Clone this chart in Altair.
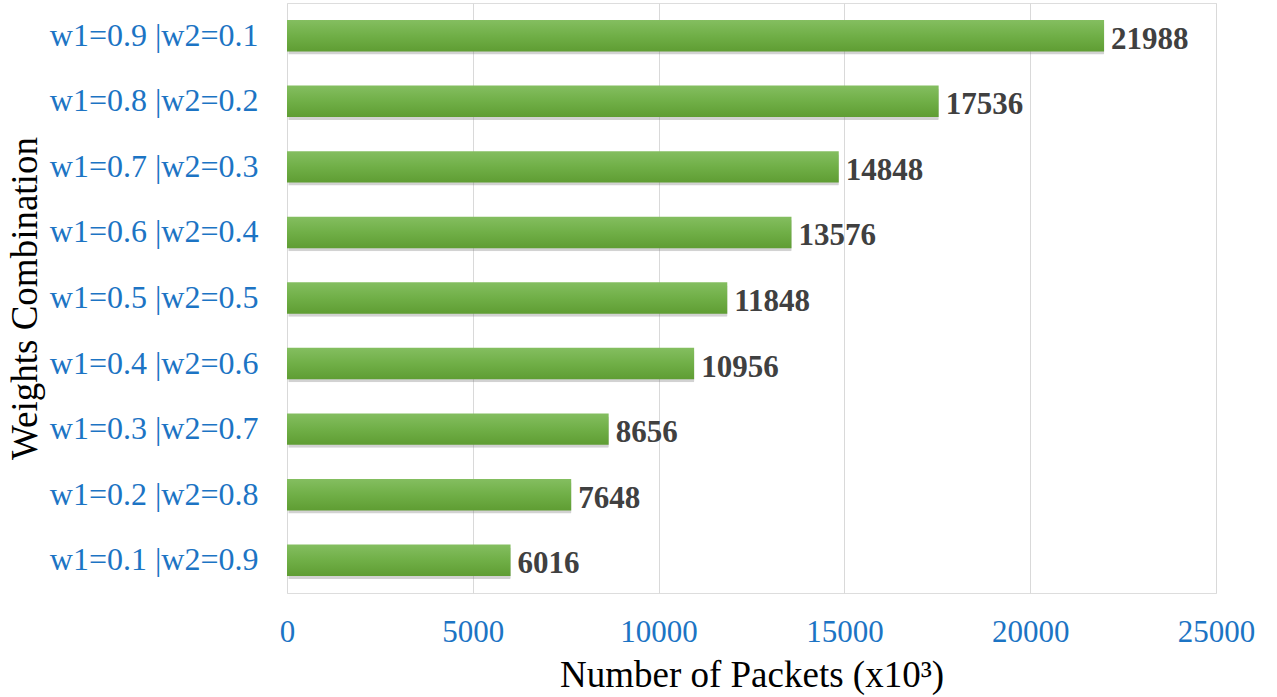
import altair as alt
import pandas as pd

# Weight combinations (w1 | w2) and the packet counts (x10^3) they produced
combos = [
    "w1=0.9 |w2=0.1",
    "w1=0.8 |w2=0.2",
    "w1=0.7 |w2=0.3",
    "w1=0.6 |w2=0.4",
    "w1=0.5 |w2=0.5",
    "w1=0.4 |w2=0.6",
    "w1=0.3 |w2=0.7",
    "w1=0.2 |w2=0.8",
    "w1=0.1 |w2=0.9",
]
packets = [21988, 17536, 14848, 13576, 11848, 10956, 8656, 7648, 6016]
x_ticks = [0, 5000, 10000, 15000, 20000, 25000]

df = pd.DataFrame({"combo": combos, "packets": packets})

SERIF = "Liberation Serif"
BLUE = "#1C74C4"

y_enc = alt.Y(
    "combo:N",
    sort=combos,
    scale=alt.Scale(paddingInner=0.52, paddingOuter=0.26),
    axis=alt.Axis(
        title="Weights Combination",
        titleFont=SERIF,
        titleFontSize=37,
        titleFontWeight="normal",
        titleColor="#000000",
        titleAngle=-90,
        titleX=-251,
        titleY=295,
        titleAlign="center",
        titleBaseline="alphabetic",
        labelFont=SERIF,
        labelFontSize=32,
        labelColor=BLUE,
        labelPadding=29,
        labelLimit=400,
        ticks=False,
        domain=False,
        grid=False,
    ),
)

x_enc = alt.X(
    "packets:Q",
    scale=alt.Scale(domain=[0, 25000], nice=False),
    axis=alt.Axis(
        title="Number of Packets (x10³)",
        titleFont=SERIF,
        titleFontSize=37,
        titleFontWeight="normal",
        titleColor="#000000",
        titleY=93,
        titleBaseline="alphabetic",
        values=x_ticks,
        format="d",
        labelFont=SERIF,
        labelFontSize=31,
        labelColor=BLUE,
        labelBaseline="alphabetic",
        labelPadding=48,
        labelFlush=False,
        ticks=False,
        domain=False,
        grid=True,
        gridColor="#d9d9d9",
        gridWidth=1,
    ),
)

base = alt.Chart(df).encode(x=x_enc, y=y_enc)

# soft drop shadow under each bar
shadow = base.mark_bar(
    color="#7f7f7f", opacity=0.35, xOffset=1.5, yOffset=3, cornerRadius=1
)

bars = base.mark_bar(
    color=alt.Gradient(
        gradient="linear",
        x1=0, y1=0, x2=0, y2=1,
        stops=[
            alt.GradientStop(color="#84be60", offset=0),
            alt.GradientStop(color="#70af47", offset=0.5),
            alt.GradientStop(color="#5f9d33", offset=1),
        ],
    )
)

labels = base.mark_text(
    align="left",
    baseline="middle",
    dx=7,
    dy=4,
    font=SERIF,
    fontSize=31,
    fontWeight="bold",
    color="#404040",
).encode(text=alt.Text("packets:Q", format="d"))

chart = (
    alt.layer(shadow, bars, labels)
    .properties(
        width=929,
        height=590,
        autosize=alt.AutoSizeParams(type="none"),
        padding={"left": 287, "top": 3, "right": 61, "bottom": 104},
    )
    .configure_view(stroke=None)
    .configure(background="#ffffff")
)

chart.save("out.html", embed_options={"renderer": "svg", "actions": False})
